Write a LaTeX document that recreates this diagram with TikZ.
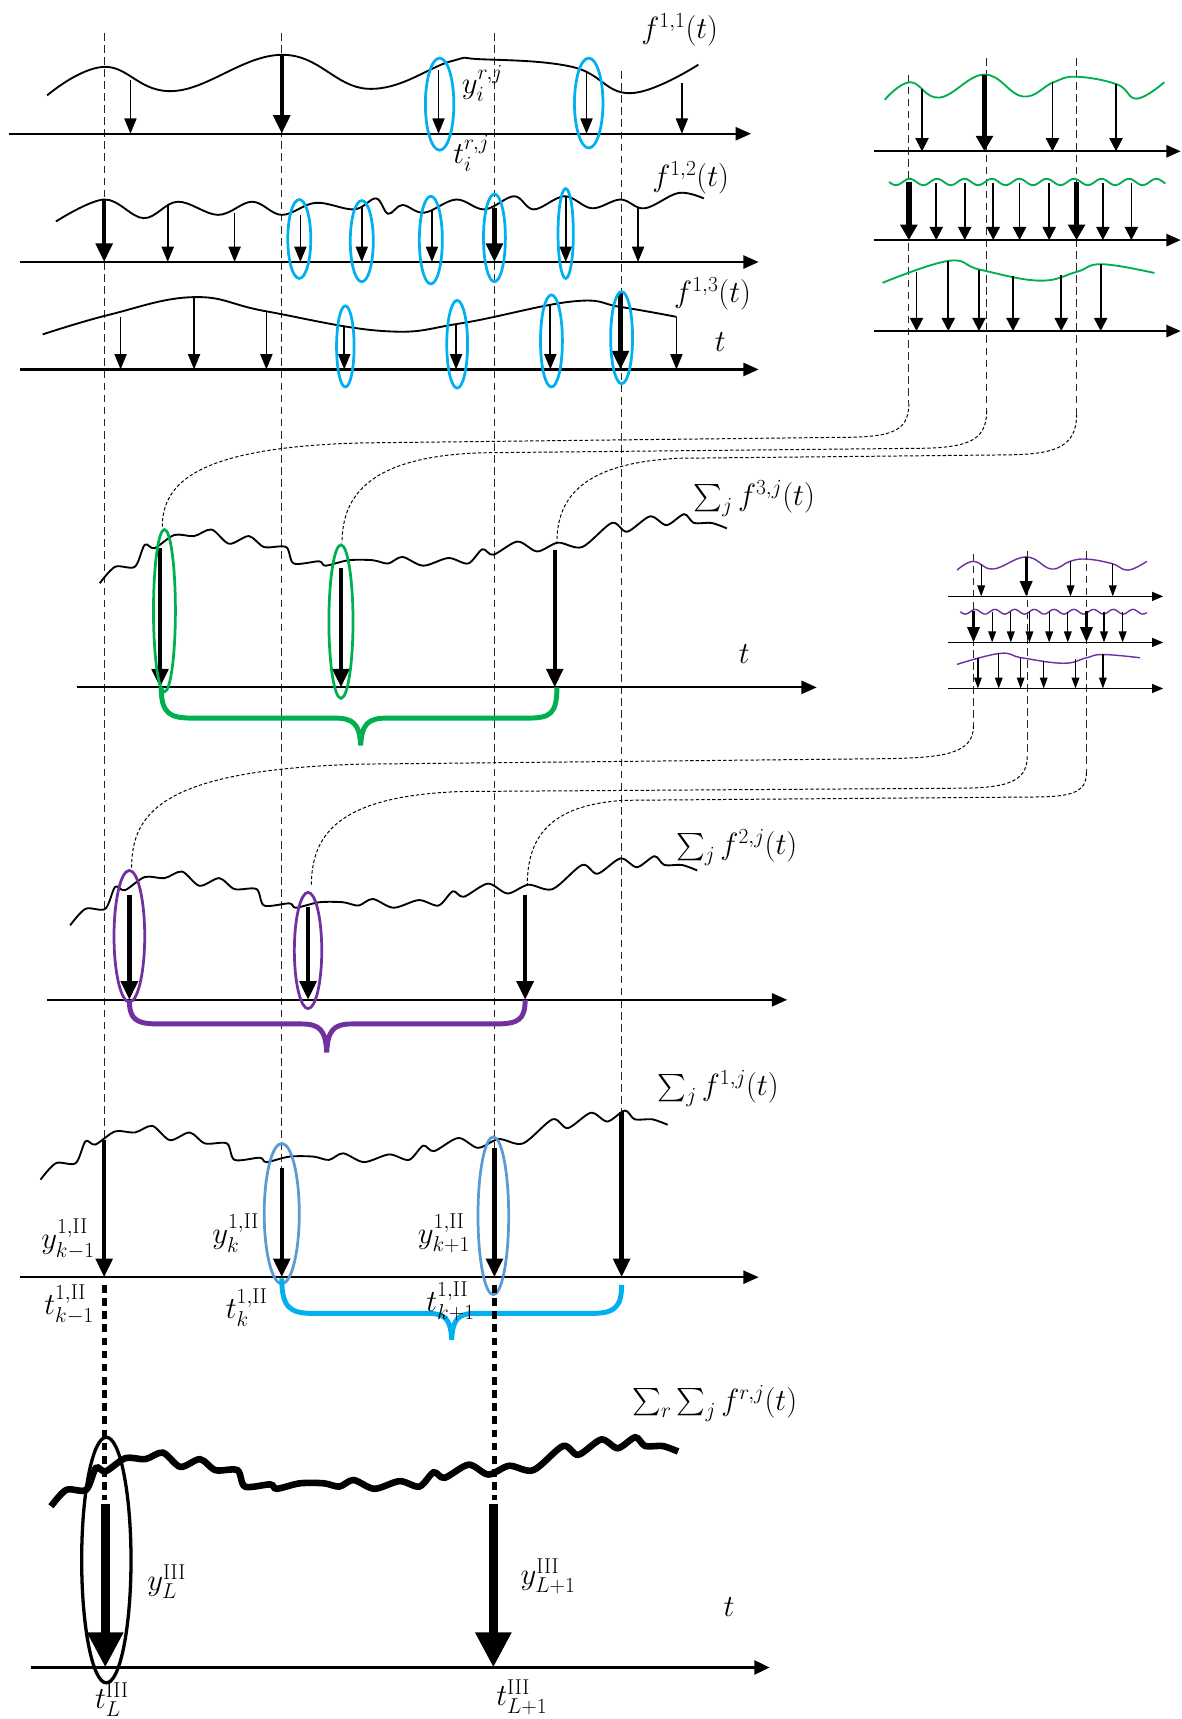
\RequirePackage{fix-cm}
\documentclass[tikz,border=0pt]{standalone}
\usepackage{amsmath}
\usetikzlibrary{arrows.meta}
\definecolor{cyanb}{HTML}{00B0F0}
\definecolor{greenb}{HTML}{00B050}
\definecolor{purp}{HTML}{7030A0}
\definecolor{steel}{HTML}{5B9BD5}
\begin{document}
\begin{tikzpicture}[x=1pt,y=-1pt,
  every node/.style={font=\fontsize{28}{32}\selectfont, inner sep=0pt},
  vdash/.style={line width=0.8pt, dash pattern=on 7pt off 4pt, black!85},
  conn/.style={line width=0.9pt, dash pattern=on 3pt off 2pt},
  axisline/.style={line width=2pt, -{Triangle[width=12pt,length=14pt]}},
  sarr/.style={line width=1.6pt, -{Triangle[width=11pt,length=14pt]}},
  barr/.style={line width=4pt, -{Triangle[width=15pt,length=17pt]}},
  garr/.style={line width=1.6pt, -{Triangle[width=12pt,length=12pt]}},
  gbarr/.style={line width=5pt, -{Triangle[width=15pt,length=14pt]}},
  gaxis/.style={line width=2pt, -{Triangle[width=11pt,length=13pt]}},
  parr/.style={line width=1.2pt, -{Triangle[width=7pt,length=10pt]}},
  pbarr/.style={line width=3pt, -{Triangle[width=11pt,length=14pt]}},
  paxis/.style={line width=1.5pt, -{Triangle[width=8pt,length=10pt]}},
  curve/.style={line width=1.7pt},
  ell/.style={line width=2.5pt},
  bracestyle/.style={line width=4.5pt},
  sumcurve/.pic={\draw[pic actions] plot[smooth,tension=0.5] coordinates {(91,532) (105,517) (123,517) (132,497) (141,500) (159,488) (177,489) (193,483) (209,496) (227,489) (241,499) (261,499) (268,514) (291,512) (297,516) (318,511) (340,511) (354,514) (367,508) (386,516) (409,509) (427,514) (440,501) (450,506) (472,494) (490,503) (509,495) (531,499) (558,477) (572,485) (593,471) (608,479) (624,469) (633,477) (649,477) (663,482)};}
]
\useasboundingbox (0,0) rectangle (1078,1568);
\fill[white] (0,0) rectangle (1078,1568);

% ---------- main vertical dashed lines
\foreach \xx/\yy in {95/30,257/30,451/30,567/65} \draw[vdash] (\xx,\yy) -- (\xx,1165);
% ---------- top-right dashed lines
\draw[vdash] (829,68) -- (829,368);
\draw[vdash] (900,53) -- (900,375);
\draw[vdash] (982,53) -- (982,378);
% ---------- purple dashed lines
\draw[vdash] (888,505) -- (888,662);
\draw[vdash] (937,503) -- (937,690);
\draw[vdash] (991,503) -- (991,705);

% ---------- green connectors
\draw[conn] (829,368) .. controls (829,396) and (810,399) .. (760,399) -- (330,404) .. controls (180,408) and (148,440) .. (148,481);
\draw[conn] (900,375) .. controls (900,404) and (880,409) .. (830,409) -- (440,413) .. controls (340,416) and (312,450) .. (312,495);
\draw[conn] (982,378) .. controls (982,410) and (960,415) .. (910,415) -- (620,418) .. controls (530,422) and (508,455) .. (508,495);
% ---------- purple connectors
\draw[conn] (888,662) .. controls (888,688) and (860,691) .. (810,692) -- (330,697) .. controls (150,702) and (120,740) .. (120,792);
\draw[conn] (937,690) .. controls (937,715) and (915,719) .. (870,719) -- (420,722) .. controls (310,726) and (284,760) .. (284,808);
\draw[conn] (991,705) .. controls (991,724) and (975,727) .. (940,727) -- (570,730) .. controls (500,734) and (481,765) .. (481,807);

% ================= Panel f^{1,1}
\draw[axisline] (8,122) -- (685,122);
\draw[curve] plot[smooth,tension=0.7] coordinates {(43,87) (95,61) (159,83) (257,50) (336,81) (411,56) (438,54) (522,61) (575,85) (637,59)};
\foreach \xx/\ya in {119/73,400/64,535/65,622/76} \draw[sarr] (\xx,\ya) -- (\xx,122);
\draw[barr] (257,50) -- (257,122);
\draw[cyanb,ell] (401,95) ellipse [x radius=13pt, y radius=42pt];
\draw[cyanb,ell] (537,94) ellipse [x radius=13pt, y radius=41pt];
\node (lf11) at (620,27) {$f^{1,1}(t)$};
\node (lyi) at (440,76) {$y_i^{r,j}$};
\node (lti) at (430,140) {$t_i^{r,j}$};

% ================= Panel f^{1,2}
\draw[axisline] (18,239) -- (692,239);
\draw[curve] plot[smooth,tension=0.6] coordinates {(51,202) (95,182) (131,199) (162,184) (199,196) (230,184) (257,196) (288,185) (323,191) (343,181) (354,195) (367,187) (387,194) (416,182) (442,191) (469,179) (487,191) (515,179) (540,190) (566,182) (588,190) (619,176) (642,181)};
\foreach \xx/\ya in {153/186,214/194,274/196,330/188,394/192,516/180,582/189} \draw[sarr] (\xx,\ya) -- (\xx,239);
\draw[barr] (95,182) -- (95,239);
\draw[barr] (451,190) -- (451,239);
\draw[cyanb,ell] (273,218) ellipse [x radius=10.5pt, y radius=36pt];
\draw[cyanb,ell] (330,220) ellipse [x radius=10.5pt, y radius=37pt];
\draw[cyanb,ell] (393,219) ellipse [x radius=10.5pt, y radius=40pt];
\draw[cyanb,ell] (451,217) ellipse [x radius=10pt, y radius=40pt];
\draw[cyanb,ell] (516,213) ellipse [x radius=7pt, y radius=41pt];
\node (lf12) at (630,162) {$f^{1,2}(t)$};

% ================= Panel f^{1,3}
\draw[axisline] (18,337) -- (692,337);
\draw[curve] plot[smooth,tension=0.7] coordinates {(39,305) (100,287) (177,271) (243,284) (350,302) (420,295) (522,275) (566,280) (617,289)};
\foreach \xx/\ya in {110/289,177/272,243/284,314/298,416/296,502/278,617/289} \draw[sarr] (\xx,\ya) -- (\xx,337);
\draw[barr] (566,267) -- (566,337);
\draw[cyanb,ell] (315,316) ellipse [x radius=8pt, y radius=37pt];
\draw[cyanb,ell] (417,314) ellipse [x radius=9.5pt, y radius=40pt];
\draw[cyanb,ell] (503,311) ellipse [x radius=10pt, y radius=42pt];
\draw[cyanb,ell] (567,308) ellipse [x radius=10pt, y radius=42pt];
\node (lf13) at (650,268) {$f^{1,3}(t)$};
\node (lt1) at (657,312) {$t$};

% ================= Green panels (top right)
\foreach \yy in {138,219,302} \draw[gaxis] (797,\yy) -- (1077,\yy);
\draw[greenb,curve] plot[smooth,tension=0.7] coordinates {(807,91) (830,75) (857,89) (898,68) (933,88) (961,75) (982,70) (1019,77) (1037,90) (1062,75)};
\draw[greenb,curve] plot[domain=0:252,samples=90,smooth] ({811+\x},{166+3*sin(\x*14.4)});
\draw[greenb,curve] plot[smooth,tension=0.7] coordinates {(805,258) (865,238) (894,246) (948,256) (982,248) (1005,241) (1053,249)};
\foreach \xx/\ya in {841/81,960/75,1018/77} \draw[garr] (\xx,\ya) -- (\xx,138);
\draw[gbarr] (898,68) -- (898,138);
\foreach \xx in {854,880,906,930,957,1006,1032} \draw[garr] (\xx,167) -- (\xx,219);
\foreach \xx in {829,982} \draw[gbarr] (\xx,166) -- (\xx,219);
\foreach \xx/\ya in {836/248,865/238,893/246,924/252,968/251,1004/241} \draw[garr] (\xx,\ya) -- (\xx,302);

% ================= Sum_j f^{3,j}
\draw[axisline] (70,627) -- (745,627);
\pic[curve] at (0,0) {sumcurve};
\draw[barr] (146,500) -- (146,627);
\draw[barr] (311,518) -- (311,627);
\draw[barr] (506,502) -- (506,627);
\draw[greenb,ell] (150,557) ellipse [x radius=10pt, y radius=74pt];
\draw[greenb,ell] (311,567) ellipse [x radius=11pt, y radius=70pt];
\draw[greenb,bracestyle] (147,627) .. controls (147,651) and (155,655) .. (175,655) -- (305,655) .. controls (322,655) and (328,660) .. (329,680) .. controls (330,660) and (336,655) .. (353,655) -- (482,655) .. controls (502,655) and (508,651) .. (508,627);
\node (ls3) at (688,455) {$\sum_j f^{3,j}(t)$};
\node (lt2) at (679,597) {$t$};

% ================= Purple panels (mid right)
\foreach \yy in {544,586,628} \draw[paxis] (865,\yy) -- (1061,\yy);
\draw[purp,line width=1.3pt] plot[smooth,tension=0.7] coordinates {(873,520) (888,512) (906,519) (936,508) (959,519) (976,512) (991,510) (1014,514) (1029,520) (1046,512)};
\draw[purp,line width=1.3pt] plot[domain=0:170,samples=80,smooth] ({876+\x},{558+2.2*sin(\x*20)});
\draw[purp,line width=1.3pt] plot[smooth,tension=0.7] coordinates {(873,606) (912,596) (932,600) (970,605) (991,600) (1006,597) (1040,600)};
\foreach \xx/\ya in {895/514,976.5/512,1015/514} \draw[parr] (\xx,\ya) -- (\xx,544);
\draw[pbarr] (936,508) -- (936,544);
\foreach \xx in {905,922,939,957,974,1007,1024} \draw[parr] (\xx,558) -- (\xx,586);
\foreach \xx in {888,991} \draw[pbarr] (\xx,557) -- (\xx,586);
\foreach \xx/\ya in {892/600,911/596,931/600,952/603,981/601,1006/597} \draw[parr] (\xx,\ya) -- (\xx,628);

% ================= Sum_j f^{2,j}
\draw[axisline] (43,912) -- (718,912);
\pic[curve] at (-27,312) {sumcurve};
\draw[barr] (118,816) -- (118,912);
\draw[barr] (281,827) -- (281,912);
\draw[barr] (479,816) -- (479,912);
\draw[purp,ell] (118,854) ellipse [x radius=14pt, y radius=60pt];
\draw[purp,ell] (281,867) ellipse [x radius=12.5pt, y radius=53pt];
\draw[purp,bracestyle] (118,912) .. controls (118,930) and (124,934) .. (145,934) -- (275,934) .. controls (292,934) and (297,940) .. (298,960) .. controls (299,940) and (304,934) .. (321,934) -- (452,934) .. controls (473,934) and (479,930) .. (479,912);
\node (ls2) at (672,773) {$\sum_j f^{2,j}(t)$};

% ================= Sum_j f^{1,j}
\draw[axisline] (18,1165) -- (692,1165);
\pic[curve] at (-54,544) {sumcurve};
\draw[barr] (95,1040) -- (95,1165);
\draw[barr] (257,1065) -- (257,1165);
\draw[barr] (451,1047) -- (451,1165);
\draw[barr] (567,1014) -- (567,1165);
\draw[steel,ell] (257,1107) ellipse [x radius=16pt, y radius=64pt];
\draw[steel,ell] (450,1109) ellipse [x radius=14pt, y radius=72pt];
\draw[cyanb,bracestyle] (257,1166) .. controls (257,1192) and (264,1198) .. (285,1198) -- (390,1198) .. controls (407,1198) and (411,1204) .. (412,1222) .. controls (413,1204) and (417,1198) .. (434,1198) -- (540,1198) .. controls (561,1198) and (567,1192) .. (567,1172);
\node (ls1) at (655,993) {$\sum_j f^{1,j}(t)$};
\node (ly1) at (62,1130) {$y^{1,\mathrm{II}}_{k-1}$};
\node (ly2) at (215,1125) {$y^{1,\mathrm{II}}_{k}$};
\node (ly3) at (405,1125) {$y^{1,\mathrm{II}}_{k+1}$};
\node (lt3) at (63,1190) {$t^{1,\mathrm{II}}_{k-1}$};
\node (lt4) at (225,1193) {$t^{1,\mathrm{II}}_{k}$};
\node (lt5) at (411,1187) {$t^{1,\mathrm{II}}_{k+1}$};

% ================= thick dotted lines
\draw[line width=4.5pt, dash pattern=on 7pt off 5pt] (95,1172) -- (95,1368);
\draw[line width=4.5pt, dash pattern=on 7pt off 5pt] (451,1172) -- (451,1368);

% ================= Bottom panel
\draw[line width=2pt, -{Triangle[width=13pt,length=14pt]}] (28,1521) -- (702,1521);
\pic[line width=6pt] at (-44.5,842) {sumcurve};
\draw[line width=8.5pt, -{Triangle[width=31pt,length=32pt]}] (96,1372) -- (96,1521);
\draw[line width=8.5pt, -{Triangle[width=31pt,length=32pt]}] (450,1372) -- (450,1521);
\draw[line width=3pt] (97,1423) ellipse [x radius=22.5pt, y radius=112pt];
\node (lsr) at (652,1280) {$\sum_r\sum_j f^{r,j}(t)$};
\node (lyL) at (152,1443) {$y^{\mathrm{III}}_{L}$};
\node (lyL1) at (500,1438) {$y^{\mathrm{III}}_{L+1}$};
\node (lt6) at (665,1466) {$t$};
\node (ltL) at (102,1550) {$t^{\mathrm{III}}_{L}$};
\node (ltL1) at (476,1548) {$t^{\mathrm{III}}_{L+1}$};
\end{tikzpicture}
\end{document}
